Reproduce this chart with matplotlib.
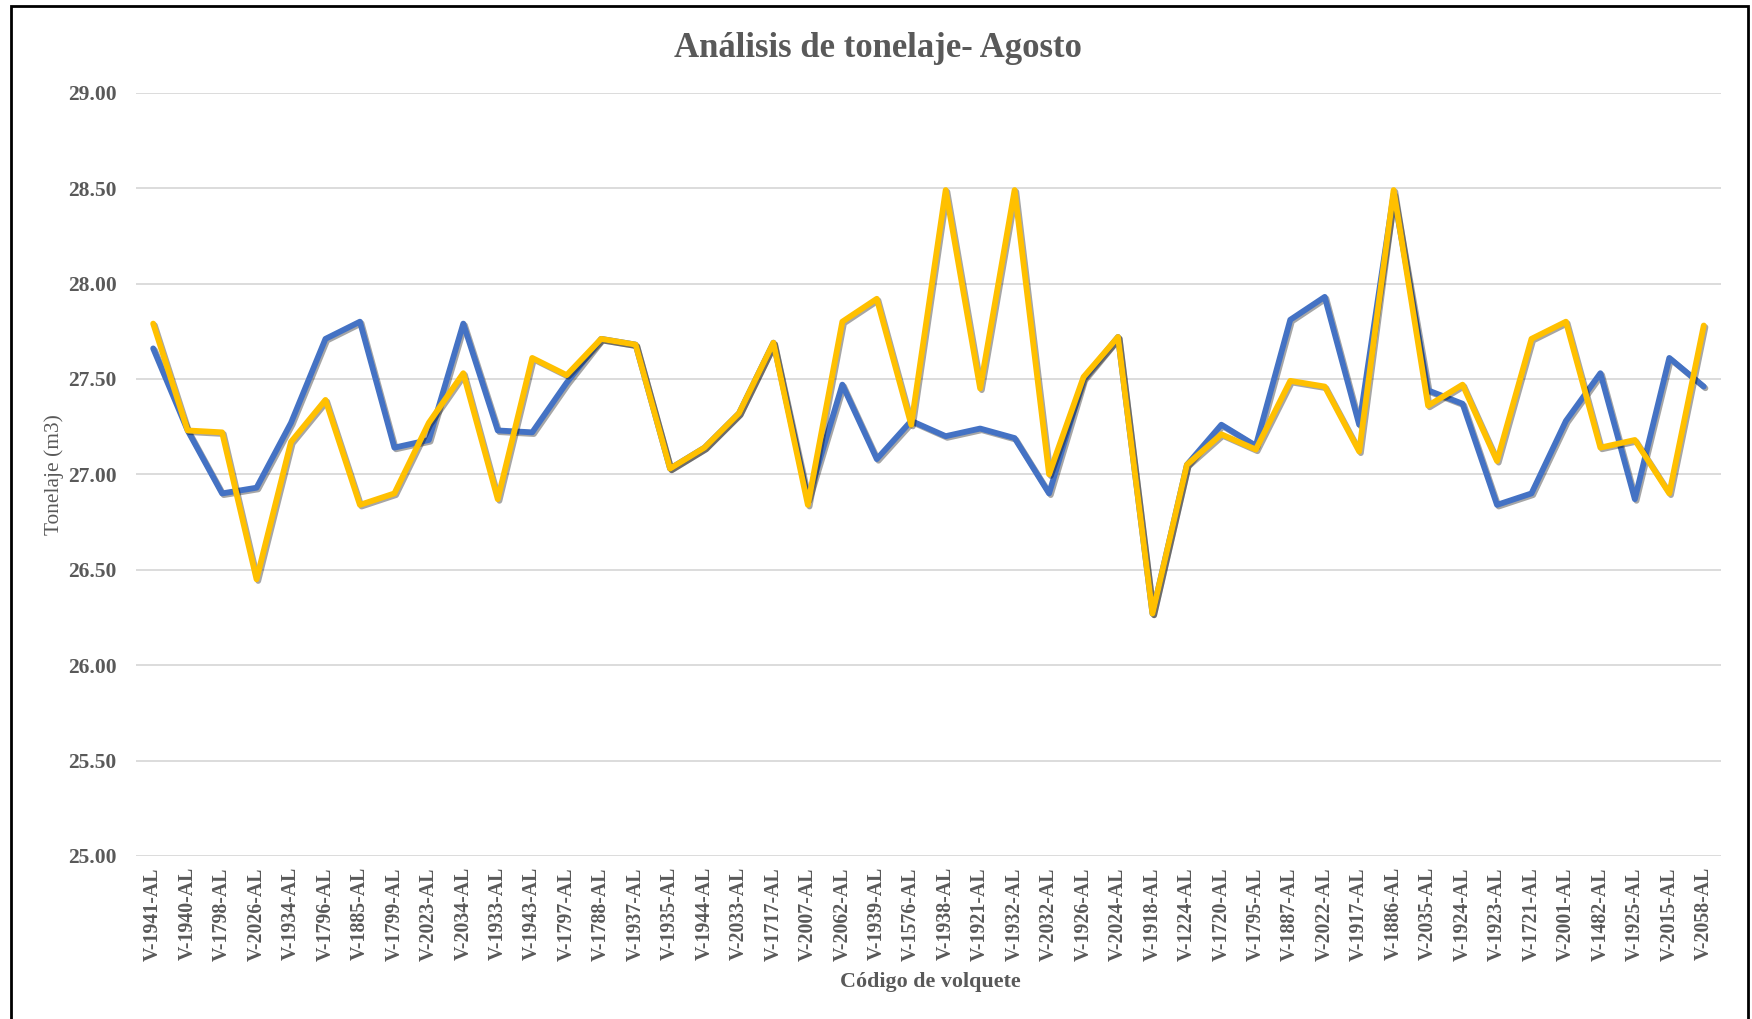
import matplotlib
matplotlib.use("Agg")
import matplotlib.pyplot as plt
import matplotlib.patheffects as pe
from matplotlib.patches import Rectangle

# ─── data ─────────────────────────────────────────────────────────────────────
codigos = [
    "V-1941-AL", "V-1940-AL", "V-1798-AL", "V-2026-AL", "V-1934-AL", "V-1796-AL",
    "V-1885-AL", "V-1799-AL", "V-2023-AL", "V-2034-AL", "V-1933-AL", "V-1943-AL",
    "V-1797-AL", "V-1788-AL", "V-1937-AL", "V-1935-AL", "V-1944-AL", "V-2033-AL",
    "V-1717-AL", "V-2007-AL", "V-2062-AL", "V-1939-AL", "V-1576-AL", "V-1938-AL",
    "V-1921-AL", "V-1932-AL", "V-2032-AL", "V-1926-AL", "V-2024-AL", "V-1918-AL",
    "V-1224-AL", "V-1720-AL", "V-1795-AL", "V-1887-AL", "V-2022-AL", "V-1917-AL",
    "V-1886-AL", "V-2035-AL", "V-1924-AL", "V-1923-AL", "V-1721-AL", "V-2001-AL",
    "V-1482-AL", "V-1925-AL", "V-2015-AL", "V-2058-AL",
]

serie_azul = [
    27.66, 27.23, 26.90, 26.93, 27.27, 27.71, 27.80, 27.14, 27.18, 27.79,
    27.23, 27.22, 27.48, 27.71, 27.68, 27.03, 27.14, 27.32, 27.69, 26.87,
    27.47, 27.08, 27.28, 27.20, 27.24, 27.19, 26.90, 27.50, 27.72, 26.27,
    27.05, 27.26, 27.15, 27.81, 27.93, 27.26, 28.47, 27.44, 27.37, 26.84,
    26.90, 27.28, 27.53, 26.87, 27.61, 27.46,
]

serie_amarilla = [
    27.79, 27.23, 27.22, 26.45, 27.17, 27.39, 26.84, 26.90, 27.27, 27.53,
    26.87, 27.61, 27.52, 27.71, 27.68, 27.03, 27.14, 27.32, 27.69, 26.84,
    27.80, 27.92, 27.26, 28.49, 27.45, 28.49, 27.00, 27.51, 27.72, 26.27,
    27.05, 27.21, 27.13, 27.49, 27.46, 27.12, 28.49, 27.36, 27.47, 27.07,
    27.71, 27.80, 27.14, 27.18, 26.90, 27.78,
]

y_ticks = [25.0, 25.5, 26.0, 26.5, 27.0, 27.5, 28.0, 28.5, 29.0]

# ─── style ────────────────────────────────────────────────────────────────────
plt.rcParams["font.family"] = ["Liberation Serif", "DejaVu Serif"]
gris = "#595959"
azul = "#4472C4"
amarillo = "#FFC000"

fig = plt.figure(figsize=(17.52, 10.19), dpi=100)
ax = fig.add_axes([0.0776, 0.160, 0.9047, 0.749])

sombra = [pe.SimpleLineShadow(offset=(1.2, -1.2), shadow_color="black", alpha=0.35),
          pe.Normal()]

x = list(range(len(codigos)))
ax.plot(x, serie_azul, color=azul, linewidth=4.2, solid_joinstyle="round",
        solid_capstyle="round", path_effects=sombra, zorder=3)
ax.plot(x, serie_amarilla, color=amarillo, linewidth=4.2, solid_joinstyle="round",
        solid_capstyle="round", path_effects=sombra, zorder=4)

ax.set_xlim(-0.5, len(codigos) - 0.5)
ax.set_ylim(25, 29)
ax.set_yticks(y_ticks)
ax.set_yticklabels([f"{v:.2f}" for v in y_ticks], fontsize=15.5, fontweight="bold", color=gris)
ax.set_xticks(x)
ax.set_xticklabels(codigos, rotation=90, fontsize=14.3, fontweight="bold", color=gris)
ax.tick_params(axis="both", length=0)
ax.tick_params(axis="x", pad=8)
ax.tick_params(axis="y", pad=14)

ax.grid(axis="y", color="#D9D9D9", linewidth=1.3)
ax.set_axisbelow(True)
for s in ax.spines.values():
    s.set_visible(False)

fig.text(0.501, 0.952, "Análisis de tonelaje- Agosto", ha="center", va="center",
         fontsize=25, fontweight="bold", color=gris)
fig.text(0.531, 0.036, "Código de volquete", ha="center", va="center",
         fontsize=15.8, fontweight="bold", color=gris)
fig.text(0.031, 0.534, "Tonelaje (m3)", ha="center", va="center", rotation=90,
         fontsize=15.4, color=gris)

# outer chart frame
fig.patches.append(Rectangle((0.006, -0.01), 0.992, 1.004, transform=fig.transFigure,
                             fill=False, edgecolor="black", linewidth=2.0))

fig.savefig("out.png", dpi=100)
